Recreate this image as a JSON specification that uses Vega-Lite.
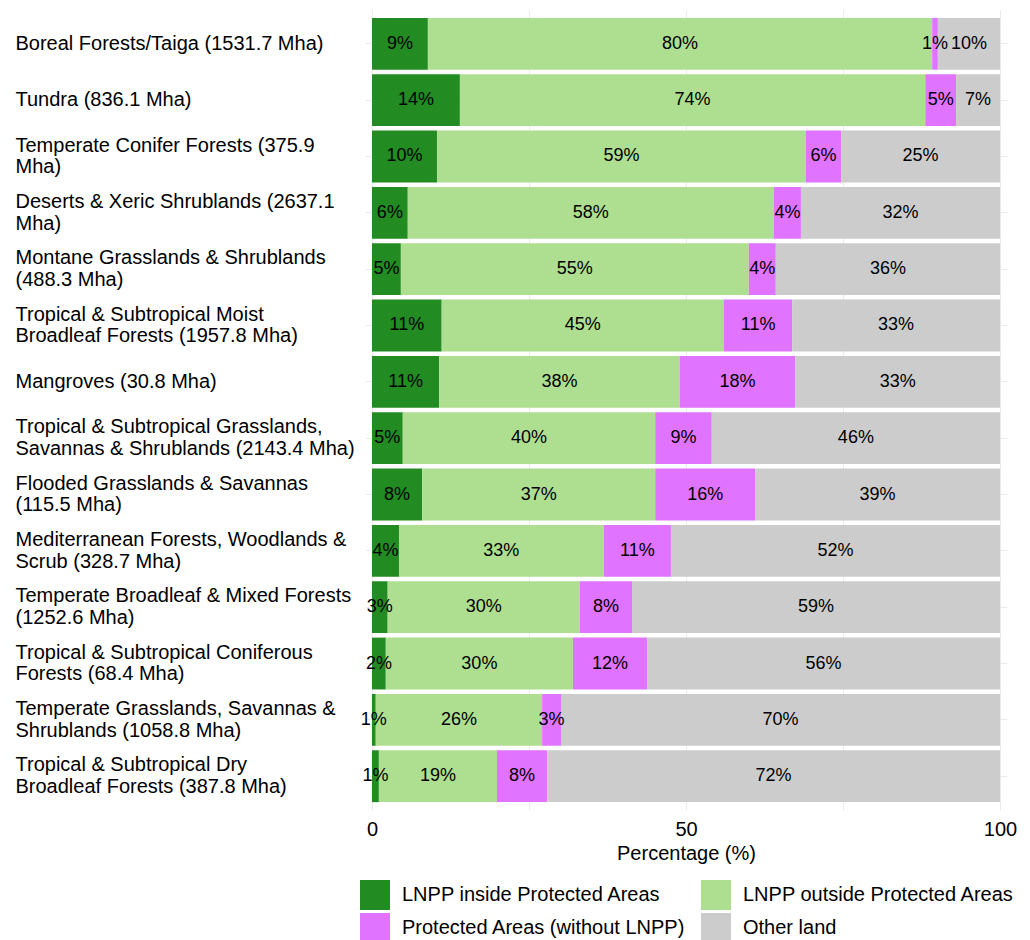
{
  "$schema": "https://vega.github.io/schema/vega-lite/v6.json",
  "width": 642,
  "height": 800,
  "autosize": "none",
  "padding": {"left": 365, "top": 10, "right": 23, "bottom": 130},
  "background": "white",
  "config": {
    "font": "Liberation Sans",
    "view": {"stroke": null},
    "axis": {"labelColor": "black", "titleColor": "black", "labelFont": "Liberation Sans", "titleFont": "Liberation Sans"},
    "legend": {"labelFont": "Liberation Sans", "labelColor": "black"}
  },
  "data": {
    "values": [
      {"rank": 1, "biome": "Boreal Forests/Taiga (1531.7 Mha)", "order": 1, "cat": "LNPP inside Protected Areas", "value": 8.9, "label": "9%"},
      {"rank": 1, "biome": "Boreal Forests/Taiga (1531.7 Mha)", "order": 2, "cat": "LNPP outside Protected Areas", "value": 80.3, "label": "80%"},
      {"rank": 1, "biome": "Boreal Forests/Taiga (1531.7 Mha)", "order": 3, "cat": "Protected Areas (without LNPP)", "value": 0.9, "label": "1%"},
      {"rank": 1, "biome": "Boreal Forests/Taiga (1531.7 Mha)", "order": 4, "cat": "Other land", "value": 9.9, "label": "10%"},
      {"rank": 2, "biome": "Tundra (836.1 Mha)", "order": 1, "cat": "LNPP inside Protected Areas", "value": 14.0, "label": "14%"},
      {"rank": 2, "biome": "Tundra (836.1 Mha)", "order": 2, "cat": "LNPP outside Protected Areas", "value": 74.1, "label": "74%"},
      {"rank": 2, "biome": "Tundra (836.1 Mha)", "order": 3, "cat": "Protected Areas (without LNPP)", "value": 4.9, "label": "5%"},
      {"rank": 2, "biome": "Tundra (836.1 Mha)", "order": 4, "cat": "Other land", "value": 7.0, "label": "7%"},
      {"rank": 3, "biome": "Temperate Conifer Forests (375.9|Mha)", "order": 1, "cat": "LNPP inside Protected Areas", "value": 10.35, "label": "10%"},
      {"rank": 3, "biome": "Temperate Conifer Forests (375.9|Mha)", "order": 2, "cat": "LNPP outside Protected Areas", "value": 58.75, "label": "59%"},
      {"rank": 3, "biome": "Temperate Conifer Forests (375.9|Mha)", "order": 3, "cat": "Protected Areas (without LNPP)", "value": 5.6, "label": "6%"},
      {"rank": 3, "biome": "Temperate Conifer Forests (375.9|Mha)", "order": 4, "cat": "Other land", "value": 25.3, "label": "25%"},
      {"rank": 4, "biome": "Deserts & Xeric Shrublands (2637.1|Mha)", "order": 1, "cat": "LNPP inside Protected Areas", "value": 5.7, "label": "6%"},
      {"rank": 4, "biome": "Deserts & Xeric Shrublands (2637.1|Mha)", "order": 2, "cat": "LNPP outside Protected Areas", "value": 58.3, "label": "58%"},
      {"rank": 4, "biome": "Deserts & Xeric Shrublands (2637.1|Mha)", "order": 3, "cat": "Protected Areas (without LNPP)", "value": 4.3, "label": "4%"},
      {"rank": 4, "biome": "Deserts & Xeric Shrublands (2637.1|Mha)", "order": 4, "cat": "Other land", "value": 31.7, "label": "32%"},
      {"rank": 5, "biome": "Montane Grasslands & Shrublands|(488.3 Mha)", "order": 1, "cat": "LNPP inside Protected Areas", "value": 4.6, "label": "5%"},
      {"rank": 5, "biome": "Montane Grasslands & Shrublands|(488.3 Mha)", "order": 2, "cat": "LNPP outside Protected Areas", "value": 55.4, "label": "55%"},
      {"rank": 5, "biome": "Montane Grasslands & Shrublands|(488.3 Mha)", "order": 3, "cat": "Protected Areas (without LNPP)", "value": 4.3, "label": "4%"},
      {"rank": 5, "biome": "Montane Grasslands & Shrublands|(488.3 Mha)", "order": 4, "cat": "Other land", "value": 35.7, "label": "36%"},
      {"rank": 6, "biome": "Tropical & Subtropical Moist|Broadleaf Forests (1957.8 Mha)", "order": 1, "cat": "LNPP inside Protected Areas", "value": 11.1, "label": "11%"},
      {"rank": 6, "biome": "Tropical & Subtropical Moist|Broadleaf Forests (1957.8 Mha)", "order": 2, "cat": "LNPP outside Protected Areas", "value": 44.95, "label": "45%"},
      {"rank": 6, "biome": "Tropical & Subtropical Moist|Broadleaf Forests (1957.8 Mha)", "order": 3, "cat": "Protected Areas (without LNPP)", "value": 10.85, "label": "11%"},
      {"rank": 6, "biome": "Tropical & Subtropical Moist|Broadleaf Forests (1957.8 Mha)", "order": 4, "cat": "Other land", "value": 33.1, "label": "33%"},
      {"rank": 7, "biome": "Mangroves (30.8 Mha)", "order": 1, "cat": "LNPP inside Protected Areas", "value": 10.7, "label": "11%"},
      {"rank": 7, "biome": "Mangroves (30.8 Mha)", "order": 2, "cat": "LNPP outside Protected Areas", "value": 38.3, "label": "38%"},
      {"rank": 7, "biome": "Mangroves (30.8 Mha)", "order": 3, "cat": "Protected Areas (without LNPP)", "value": 18.4, "label": "18%"},
      {"rank": 7, "biome": "Mangroves (30.8 Mha)", "order": 4, "cat": "Other land", "value": 32.6, "label": "33%"},
      {"rank": 8, "biome": "Tropical & Subtropical Grasslands,|Savannas & Shrublands (2143.4 Mha)", "order": 1, "cat": "LNPP inside Protected Areas", "value": 4.9, "label": "5%"},
      {"rank": 8, "biome": "Tropical & Subtropical Grasslands,|Savannas & Shrublands (2143.4 Mha)", "order": 2, "cat": "LNPP outside Protected Areas", "value": 40.2, "label": "40%"},
      {"rank": 8, "biome": "Tropical & Subtropical Grasslands,|Savannas & Shrublands (2143.4 Mha)", "order": 3, "cat": "Protected Areas (without LNPP)", "value": 9.0, "label": "9%"},
      {"rank": 8, "biome": "Tropical & Subtropical Grasslands,|Savannas & Shrublands (2143.4 Mha)", "order": 4, "cat": "Other land", "value": 45.9, "label": "46%"},
      {"rank": 9, "biome": "Flooded Grasslands & Savannas|(115.5 Mha)", "order": 1, "cat": "LNPP inside Protected Areas", "value": 8.0, "label": "8%"},
      {"rank": 9, "biome": "Flooded Grasslands & Savannas|(115.5 Mha)", "order": 2, "cat": "LNPP outside Protected Areas", "value": 37.1, "label": "37%"},
      {"rank": 9, "biome": "Flooded Grasslands & Savannas|(115.5 Mha)", "order": 3, "cat": "Protected Areas (without LNPP)", "value": 15.9, "label": "16%"},
      {"rank": 9, "biome": "Flooded Grasslands & Savannas|(115.5 Mha)", "order": 4, "cat": "Other land", "value": 39.0, "label": "39%"},
      {"rank": 10, "biome": "Mediterranean Forests, Woodlands &|Scrub (328.7 Mha)", "order": 1, "cat": "LNPP inside Protected Areas", "value": 4.3, "label": "4%"},
      {"rank": 10, "biome": "Mediterranean Forests, Woodlands &|Scrub (328.7 Mha)", "order": 2, "cat": "LNPP outside Protected Areas", "value": 32.6, "label": "33%"},
      {"rank": 10, "biome": "Mediterranean Forests, Woodlands &|Scrub (328.7 Mha)", "order": 3, "cat": "Protected Areas (without LNPP)", "value": 10.7, "label": "11%"},
      {"rank": 10, "biome": "Mediterranean Forests, Woodlands &|Scrub (328.7 Mha)", "order": 4, "cat": "Other land", "value": 52.4, "label": "52%"},
      {"rank": 11, "biome": "Temperate Broadleaf & Mixed Forests|(1252.6 Mha)", "order": 1, "cat": "LNPP inside Protected Areas", "value": 2.5, "label": "3%"},
      {"rank": 11, "biome": "Temperate Broadleaf & Mixed Forests|(1252.6 Mha)", "order": 2, "cat": "LNPP outside Protected Areas", "value": 30.6, "label": "30%"},
      {"rank": 11, "biome": "Temperate Broadleaf & Mixed Forests|(1252.6 Mha)", "order": 3, "cat": "Protected Areas (without LNPP)", "value": 8.3, "label": "8%"},
      {"rank": 11, "biome": "Temperate Broadleaf & Mixed Forests|(1252.6 Mha)", "order": 4, "cat": "Other land", "value": 58.6, "label": "59%"},
      {"rank": 12, "biome": "Tropical & Subtropical Coniferous|Forests (68.4 Mha)", "order": 1, "cat": "LNPP inside Protected Areas", "value": 2.2, "label": "2%"},
      {"rank": 12, "biome": "Tropical & Subtropical Coniferous|Forests (68.4 Mha)", "order": 2, "cat": "LNPP outside Protected Areas", "value": 29.8, "label": "30%"},
      {"rank": 12, "biome": "Tropical & Subtropical Coniferous|Forests (68.4 Mha)", "order": 3, "cat": "Protected Areas (without LNPP)", "value": 11.8, "label": "12%"},
      {"rank": 12, "biome": "Tropical & Subtropical Coniferous|Forests (68.4 Mha)", "order": 4, "cat": "Other land", "value": 56.2, "label": "56%"},
      {"rank": 13, "biome": "Temperate Grasslands, Savannas &|Shrublands (1058.8 Mha)", "order": 1, "cat": "LNPP inside Protected Areas", "value": 0.6, "label": "1%"},
      {"rank": 13, "biome": "Temperate Grasslands, Savannas &|Shrublands (1058.8 Mha)", "order": 2, "cat": "LNPP outside Protected Areas", "value": 26.5, "label": "26%"},
      {"rank": 13, "biome": "Temperate Grasslands, Savannas &|Shrublands (1058.8 Mha)", "order": 3, "cat": "Protected Areas (without LNPP)", "value": 3.0, "label": "3%"},
      {"rank": 13, "biome": "Temperate Grasslands, Savannas &|Shrublands (1058.8 Mha)", "order": 4, "cat": "Other land", "value": 69.9, "label": "70%"},
      {"rank": 14, "biome": "Tropical & Subtropical Dry|Broadleaf Forests (387.8 Mha)", "order": 1, "cat": "LNPP inside Protected Areas", "value": 1.1, "label": "1%"},
      {"rank": 14, "biome": "Tropical & Subtropical Dry|Broadleaf Forests (387.8 Mha)", "order": 2, "cat": "LNPP outside Protected Areas", "value": 18.8, "label": "19%"},
      {"rank": 14, "biome": "Tropical & Subtropical Dry|Broadleaf Forests (387.8 Mha)", "order": 3, "cat": "Protected Areas (without LNPP)", "value": 8.0, "label": "8%"},
      {"rank": 14, "biome": "Tropical & Subtropical Dry|Broadleaf Forests (387.8 Mha)", "order": 4, "cat": "Other land", "value": 72.1, "label": "72%"}
    ]
  },
  "transform": [
    {"stack": "value", "groupby": ["biome"], "sort": [{"field": "order", "order": "ascending"}], "as": ["x0", "x1"]},
    {"calculate": "(datum.x0 + datum.x1) / 2", "as": "xm"}
  ],
  "encoding": {
    "y": {
      "field": "biome",
      "type": "nominal",
      "sort": {"field": "rank", "op": "min"},
      "scale": {"paddingInner": 0.08, "paddingOuter": 0.14},
      "axis": {
        "title": null,
        "labelExpr": "split(datum.label, '|')",
        "labelAlign": "left",
        "labelBaseline": "middle",
        "labelPadding": 350,
        "labelFontSize": 20,
        "labelLineHeight": 21.5,
        "labelOffset": {"condition": {"test": "indexof(datum.value, '|') >= 0", "value": -10.75}, "value": 0},
        "labelLimit": 400,
        "ticks": false,
        "domain": false,
        "grid": true,
        "gridColor": "#EBEBEB",
        "gridWidth": 1,
        "bandPosition": 0.5
      }
    }
  },
  "layer": [
    {
      "mark": {"type": "bar"},
      "encoding": {
        "x": {
          "field": "x0",
          "type": "quantitative",
          "scale": {"domain": [-1.11, 101.11], "nice": false, "zero": false},
          "axis": {
            "title": "Percentage (%)",
            "titleFontSize": 20,
            "titleFontWeight": "normal",
            "titlePadding": 4,
            "values": [0, 25, 50, 75, 100],
            "labelExpr": "datum.value % 50 == 0 ? datum.label : ''",
            "labelFontSize": 20,
            "labelPadding": 9,
            "ticks": false,
            "domain": false,
            "grid": true,
            "gridColor": "#EBEBEB",
            "gridWidth": 1
          }
        },
        "x2": {"field": "x1"},
        "color": {
          "field": "cat",
          "type": "nominal",
          "scale": {
            "domain": ["LNPP inside Protected Areas", "LNPP outside Protected Areas", "Protected Areas (without LNPP)", "Other land"],
            "range": ["#228B22", "#AEDE90", "#E073FF", "#CCCCCC"]
          },
          "legend": {
            "title": null,
            "orient": "none",
            "legendX": -5,
            "legendY": 870,
            "columns": 2,
            "direction": "horizontal",
            "symbolType": "square",
            "symbolSize": 900,
            "symbolStrokeWidth": 0,
            "symbolOpacity": 1,
            "labelFontSize": 20,
            "labelOffset": 12,
            "labelLimit": 400,
            "rowPadding": 3,
            "columnPadding": 15,
            "padding": 0
          }
        }
      }
    },
    {
      "mark": {"type": "text", "fontSize": 18, "color": "black", "baseline": "middle", "align": "center"},
      "encoding": {
        "x": {"field": "xm", "type": "quantitative"},
        "text": {"field": "label"}
      }
    }
  ]
}
